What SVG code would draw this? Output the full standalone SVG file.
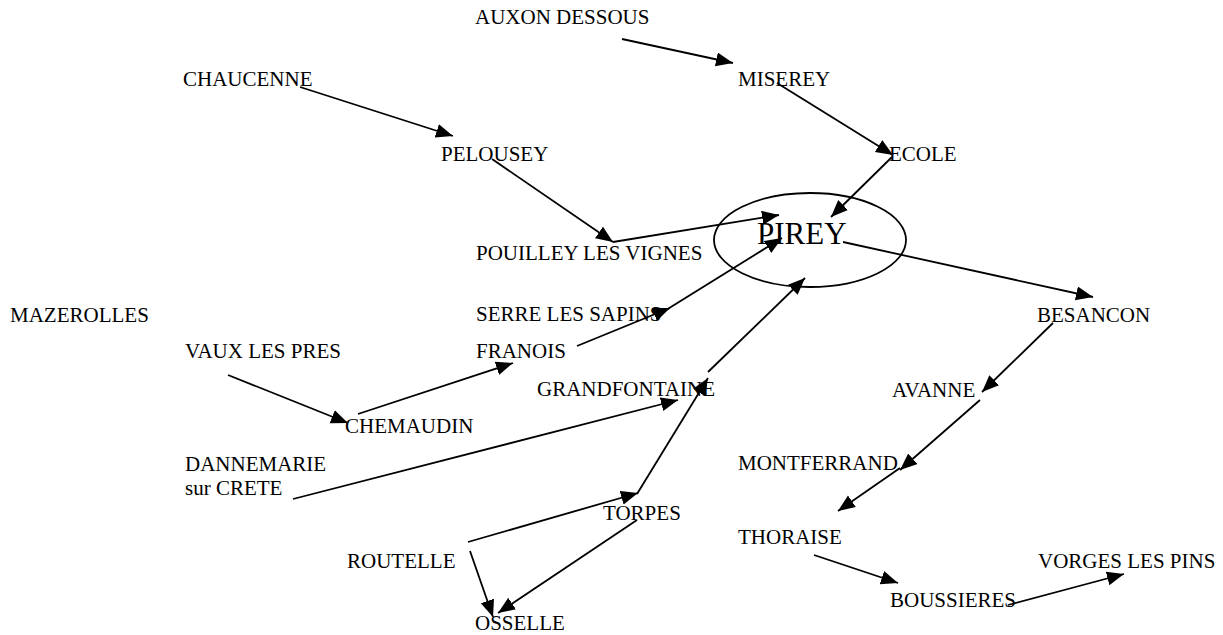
<svg xmlns="http://www.w3.org/2000/svg" width="1223" height="635" viewBox="0 0 1223 635">
<style>
text{font-family:"Liberation Serif","Times New Roman",serif;font-size:21px;fill:#000}
.big{font-size:31px}
.c line{stroke:#000;stroke-width:1.8;fill:none;marker-end:url(#ah)}
</style>
<defs>
<marker id="ah" markerUnits="userSpaceOnUse" markerWidth="20" markerHeight="16" refX="17" refY="7" orient="auto"><path d="M0,0 L17,7 L0,14 z" fill="#000"/></marker>
</defs>
<rect width="1223" height="635" fill="#fff"/>
<g id="n-auxon"><text x="475" y="24">AUXON DESSOUS</text></g>
<g id="n-chaucenne"><text x="183" y="86">CHAUCENNE</text></g>
<g id="n-miserey"><text x="738" y="86">MISEREY</text></g>
<g id="n-pelousey"><text x="441" y="161">PELOUSEY</text></g>
<g id="n-ecole"><text x="889" y="161">ECOLE</text></g>
<g id="n-pirey"><ellipse cx="810" cy="240" rx="96" ry="47" fill="none" stroke="#000" stroke-width="1.8"/><text class="big" x="757" y="244">PIREY</text></g>
<g id="n-pouilley"><text x="476" y="260">POUILLEY LES VIGNES</text></g>
<g id="n-mazerolles"><text x="10" y="322">MAZEROLLES</text></g>
<g id="n-serre"><text x="476" y="321">SERRE LES SAPINS</text></g>
<g id="n-besancon"><text x="1037" y="322">BESANCON</text></g>
<g id="n-vaux"><text x="185" y="358">VAUX LES PRES</text></g>
<g id="n-franois"><text x="476" y="358">FRANOIS</text></g>
<g id="n-grandfontaine"><text x="537" y="396">GRANDFONTAINE</text></g>
<g id="n-avanne"><text x="892" y="397">AVANNE</text></g>
<g id="n-chemaudin"><text x="345" y="433">CHEMAUDIN</text></g>
<g id="n-dannemarie"><text x="185" y="471">DANNEMARIE</text><text x="185" y="495">sur CRETE</text></g>
<g id="n-montferrand"><text x="738" y="470">MONTFERRAND</text></g>
<g id="n-torpes"><text x="603" y="520">TORPES</text></g>
<g id="n-thoraise"><text x="738" y="544">THORAISE</text></g>
<g id="n-routelle"><text x="347" y="568">ROUTELLE</text></g>
<g id="n-vorges"><text x="1038" y="568">VORGES LES PINS</text></g>
<g id="n-boussieres"><text x="890" y="607">BOUSSIERES</text></g>
<g id="n-osselle"><text x="475" y="630">OSSELLE</text></g>
<g class="c" id="connectors">
<line x1="622" y1="39" x2="733" y2="63"/>
<line x1="300" y1="87" x2="453" y2="136"/>
<line x1="777" y1="83" x2="893" y2="155"/>
<line x1="892" y1="157" x2="831" y2="217"/>
<line x1="492" y1="159" x2="613" y2="242"/>
<line x1="613" y1="242" x2="779" y2="215"/>
<line x1="577" y1="346" x2="670" y2="308"/>
<line x1="658" y1="315" x2="782" y2="238"/>
<line x1="708" y1="372" x2="805" y2="278"/>
<line x1="637" y1="494" x2="708" y2="378"/>
<line x1="293" y1="499" x2="678" y2="400"/>
<line x1="228" y1="375" x2="348" y2="423"/>
<line x1="358" y1="414" x2="513" y2="363"/>
<line x1="468" y1="542" x2="638" y2="493"/>
<line x1="470" y1="551" x2="493" y2="617"/>
<line x1="637" y1="520" x2="498" y2="613"/>
<line x1="843" y1="242" x2="1093" y2="297"/>
<line x1="1053" y1="323" x2="982" y2="392"/>
<line x1="980" y1="400" x2="900" y2="470"/>
<line x1="900" y1="468" x2="838" y2="511"/>
<line x1="814" y1="555" x2="898" y2="583"/>
<line x1="1008" y1="605" x2="1124" y2="574"/>
</g>
</svg>
